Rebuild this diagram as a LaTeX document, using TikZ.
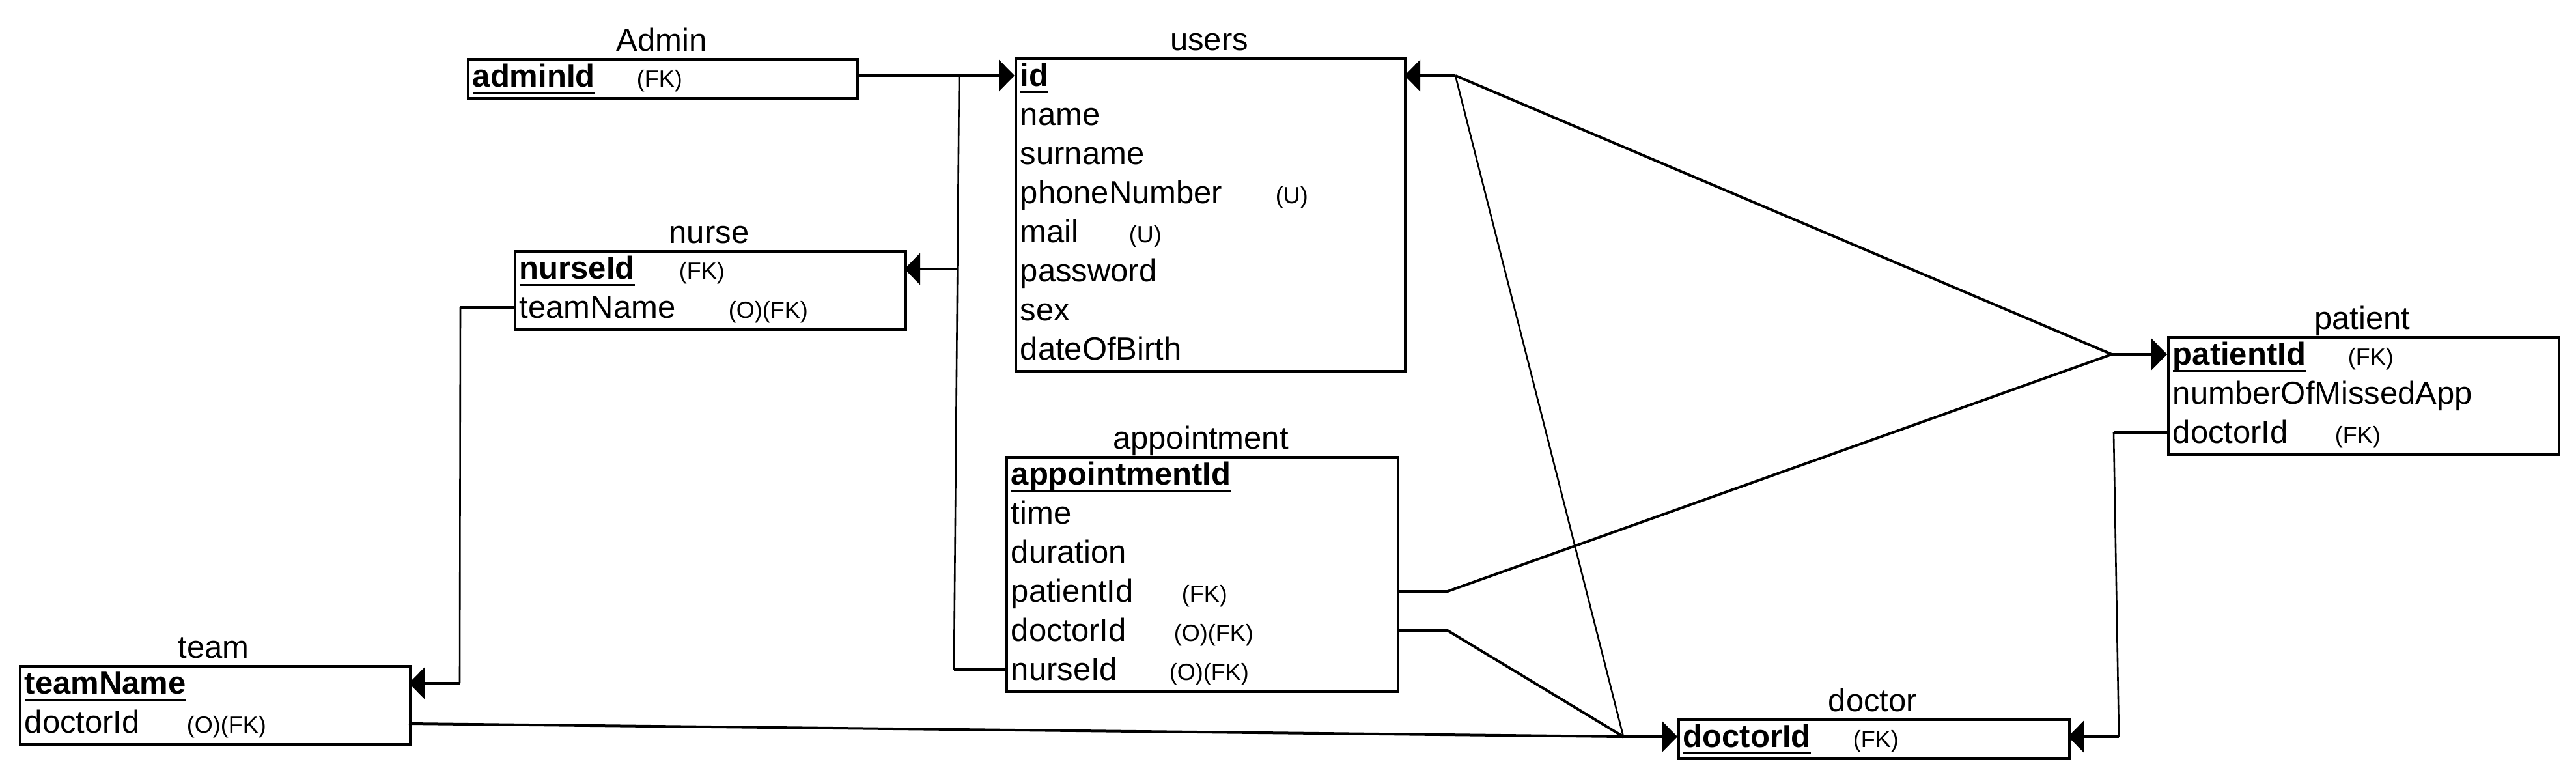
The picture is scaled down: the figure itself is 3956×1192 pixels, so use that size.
\documentclass[tikz,border=0pt]{standalone}
\usepackage{fontspec}
\setmainfont{Liberation Sans}
\usetikzlibrary{arrows.meta}
\newcommand{\pkey}[1]{\setbox0\hbox{\bfseries #1}\rlap{\rule[-2.75pt]{\wd0}{0.8pt}}\box0}
\begin{document}
\begin{tikzpicture}[x=0.25pt,y=-0.25pt,
  entity/.style={draw, line width=1.05pt, rectangle, inner sep=0pt, anchor=north west},
  title/.style={anchor=base, font=\fontsize{12.25}{14}\selectfont, inner sep=0pt},
  field/.style={anchor=base west, font=\fontsize{12.25}{14}\selectfont, inner sep=0pt},
  note/.style={anchor=base west, font=\fontsize{9}{11}\selectfont, inner sep=0pt},
  link/.style={line width=1pt},
  vlink/.style={line width=0.65pt},
  tip/.style={-{Triangle[length=6pt,width=12pt]}},
]
\useasboundingbox (0,0) rectangle (3956,1192);

% ---------- Admin ----------
\node[entity, minimum width=149.5pt, minimum height=15pt] (admin) at (717,89) {};
\node[title] (adminT) at (1016,78) {Admin};
\node[field] (adminF1) at (725,133) {\pkey{adminId}};
\node[note]  (adminN1) at (977,133) {(FK)};

% ---------- users ----------
\node[entity, minimum width=149.5pt, minimum height=120pt] (users) at (1558,88) {};
\node[title] (usersT) at (1857,77) {users};
\node[field] (usersF1) at (1566,132) {\pkey{id}};
\node[field] (usersF2) at (1566,192) {name};
\node[field] (usersF3) at (1566,252) {surname};
\node[field] (usersF4) at (1566,312) {phoneNumber};
\node[note]  (usersN4) at (1958,312) {(U)};
\node[field] (usersF5) at (1566,372) {mail};
\node[note]  (usersN5) at (1733,372) {(U)};
\node[field] (usersF6) at (1566,432) {password};
\node[field] (usersF7) at (1566,492) {sex};
\node[field] (usersF8) at (1566,552) {dateOfBirth};

% ---------- nurse ----------
\node[entity, minimum width=150pt, minimum height=30pt] (nurse) at (789,384) {};
\node[title] (nurseT) at (1089,373) {nurse};
\node[field] (nurseF1) at (797,428) {\pkey{nurseId}};
\node[note]  (nurseN1) at (1042,428) {(FK)};
\node[field] (nurseF2) at (797,488) {teamName};
\node[note]  (nurseN2) at (1118,488) {(O)(FK)};

% ---------- appointment ----------
\node[entity, minimum width=150.25pt, minimum height=90pt] (appt) at (1544,700) {};
\node[title] (apptT) at (1844,689) {appointment};
\node[field] (apptF1) at (1552,744) {\pkey{appointmentId}};
\node[field] (apptF2) at (1552,804) {time};
\node[field] (apptF3) at (1552,864) {duration};
\node[field] (apptF4) at (1552,924) {patientId};
\node[note]  (apptN4) at (1814,924) {(FK)};
\node[field] (apptF5) at (1552,984) {doctorId};
\node[note]  (apptN5) at (1802,984) {(O)(FK)};
\node[field] (apptF6) at (1552,1044) {nurseId};
\node[note]  (apptN6) at (1795,1044) {(O)(FK)};

% ---------- team ----------
\node[entity, minimum width=149.75pt, minimum height=30pt] (team) at (29,1021) {};
\node[title] (teamT) at (328,1010) {team};
\node[field] (teamF1) at (37,1065) {\pkey{teamName}};
\node[field] (teamF2) at (37,1125) {doctorId};
\node[note]  (teamN2) at (286,1125) {(O)(FK)};

% ---------- doctor ----------
\node[entity, minimum width=150pt, minimum height=15pt] (doctor) at (2576,1103) {};
\node[title] (doctorT) at (2876,1092) {doctor};
\node[field] (doctorF1) at (2584,1147) {\pkey{doctorId}};
\node[note]  (doctorN1) at (2845,1147) {(FK)};

% ---------- patient ----------
\node[entity, minimum width=150pt, minimum height=45pt] (patient) at (3328,516) {};
\node[title] (patientT) at (3628,505) {patient};
\node[field] (patientF1) at (3336,560) {\pkey{patientId}};
\node[note]  (patientN1) at (3605,560) {(FK)};
\node[field] (patientF2) at (3336,620) {numberOfMissedApp};
\node[field] (patientF3) at (3336,680) {doctorId};
\node[note]  (patientN3) at (3585,680) {(FK)};

% ---------- ports and junctions ----------
\coordinate (adminE) at (1315,116);
\coordinate (j1) at (1473,116);
\coordinate (usersIdW) at (1558,116);
\coordinate (jNurse) at (1470,413);
\coordinate (nurseE) at (1389,413);
\coordinate (jBottom) at (1465,1028);
\coordinate (apptNurseW) at (1544,1028);
\coordinate (nurseTeamW) at (789,472);
\coordinate (jTeamTop) at (707,472);
\coordinate (jTeamBot) at (706,1049);
\coordinate (teamE) at (628,1049);
\coordinate (teamDocE) at (628,1111);
\coordinate (jDoctor) at (2493,1131);
\coordinate (doctorW) at (2576,1131);
\coordinate (apptPatE) at (2145,908);
\coordinate (kP) at (2223,908);
\coordinate (apptDocE) at (2145,968);
\coordinate (kD) at (2223,968);
\coordinate (jPatient) at (3243,544);
\coordinate (patientW) at (3328,544);
\coordinate (usersIdE) at (2157,116);
\coordinate (jUsers) at (2235,116);
\coordinate (patDocW) at (3328,664);
\coordinate (jPD) at (3246,664);
\coordinate (jPD2) at (3254,1131);
\coordinate (doctorE) at (3176,1131);

% ---------- connectors ----------
\draw[link] (adminE) -- (j1);
\draw[link,tip] (j1) -- (usersIdW);
\draw[vlink] (j1) -- (jBottom);
\draw[link] (jBottom) -- (apptNurseW);
\draw[link,tip] (jNurse) -- (nurseE);
\draw[link] (nurseTeamW) -- (jTeamTop);
\draw[vlink] (jTeamTop) -- (jTeamBot);
\draw[link,tip] (jTeamBot) -- (teamE);
\draw[link] (teamDocE) -- (jDoctor);
\draw[link] (apptDocE) -- (kD) -- (jDoctor);
\draw[vlink] (jUsers) -- (jDoctor);
\draw[link,tip] (jDoctor) -- (doctorW);
\draw[link] (apptPatE) -- (kP) -- (jPatient);
\draw[link] (jUsers) -- (jPatient);
\draw[link,tip] (jPatient) -- (patientW);
\draw[link,tip] (jUsers) -- (usersIdE);
\draw[link] (patDocW) -- (jPD);
\draw[vlink] (jPD) -- (jPD2);
\draw[link,tip] (jPD2) -- (doctorE);
\end{tikzpicture}
\end{document}
